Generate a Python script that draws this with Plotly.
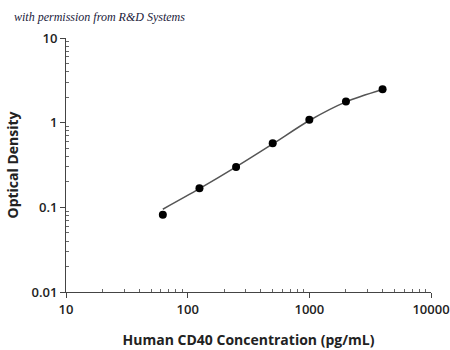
import plotly.graph_objects as go

conc = [62.5, 125, 250, 500, 1000, 2000, 4000]
od = [0.082, 0.168, 0.30, 0.57, 1.08, 1.78, 2.48]
curve_x = [62.5, 125, 250, 500, 1000, 2000, 4000]
curve_y = [0.095, 0.166, 0.30, 0.56, 1.06, 1.76, 2.46]
x_ticks = [10, 100, 1000, 10000]
y_ticks = [0.01, 0.1, 1, 10]
x_minor = [m * 10 ** d for d in range(1, 4) for m in range(2, 10)]
y_minor = [m * 10.0 ** d for d in range(-2, 1) for m in range(2, 10)]

fig = go.Figure()
fig.add_trace(go.Scatter(x=curve_x, y=curve_y, mode="lines",
                         line=dict(color="#555555", width=1.5, shape="spline", smoothing=0.8),
                         hoverinfo="skip"))
fig.add_trace(go.Scatter(x=conc, y=od, mode="markers",
                         marker=dict(color="black", size=8)))

font_main = "Open Sans"
fig.update_layout(
    width=450, height=350,
    margin=dict(l=66, r=19, t=38, b=58),
    paper_bgcolor="white", plot_bgcolor="white",
    showlegend=False,
    font=dict(family=font_main, color="#222222"),
    xaxis=dict(type="log", range=[1, 4], tickvals=x_ticks,
               ticktext=[str(v) for v in x_ticks], automargin=False,
               showgrid=False, zeroline=False, showline=True,
               linecolor="#444444", linewidth=1,
               ticks="outside", ticklen=5, tickcolor="#444444",
               minor=dict(tickvals=x_minor, ticks="inside", ticklen=3,
                          tickcolor="#666666", showgrid=False),
               tickfont=dict(size=13, family=font_main, weight=600),
               title=dict(text="Human CD40 Concentration (pg/mL)",
                          font=dict(size=14, family=font_main, weight=700),
                          standoff=18)),
    yaxis=dict(type="log", range=[-2, 1], tickvals=y_ticks,
               ticktext=["0.01", "0.1", "1", "10"], automargin=False,
               showgrid=False, zeroline=False, showline=True,
               linecolor="#444444", linewidth=1,
               ticks="outside", ticklen=5, tickcolor="#444444",
               minor=dict(tickvals=y_minor, ticks="inside", ticklen=3,
                          tickcolor="#666666", showgrid=False),
               tickfont=dict(size=13, family=font_main, weight=600),
               title=dict(text="Optical Density",
                          font=dict(size=14, family=font_main, weight=700),
                          standoff=9)),
    annotations=[dict(text="with permission from R&amp;D Systems",
                      xref="paper", yref="paper", x=-0.148, y=1.083,
                      xanchor="left", yanchor="middle", showarrow=False,
                      font=dict(size=12, family="Liberation Serif", style="italic",
                                color="#1a1a3a"))],
)

fig.write_html("out.html")
